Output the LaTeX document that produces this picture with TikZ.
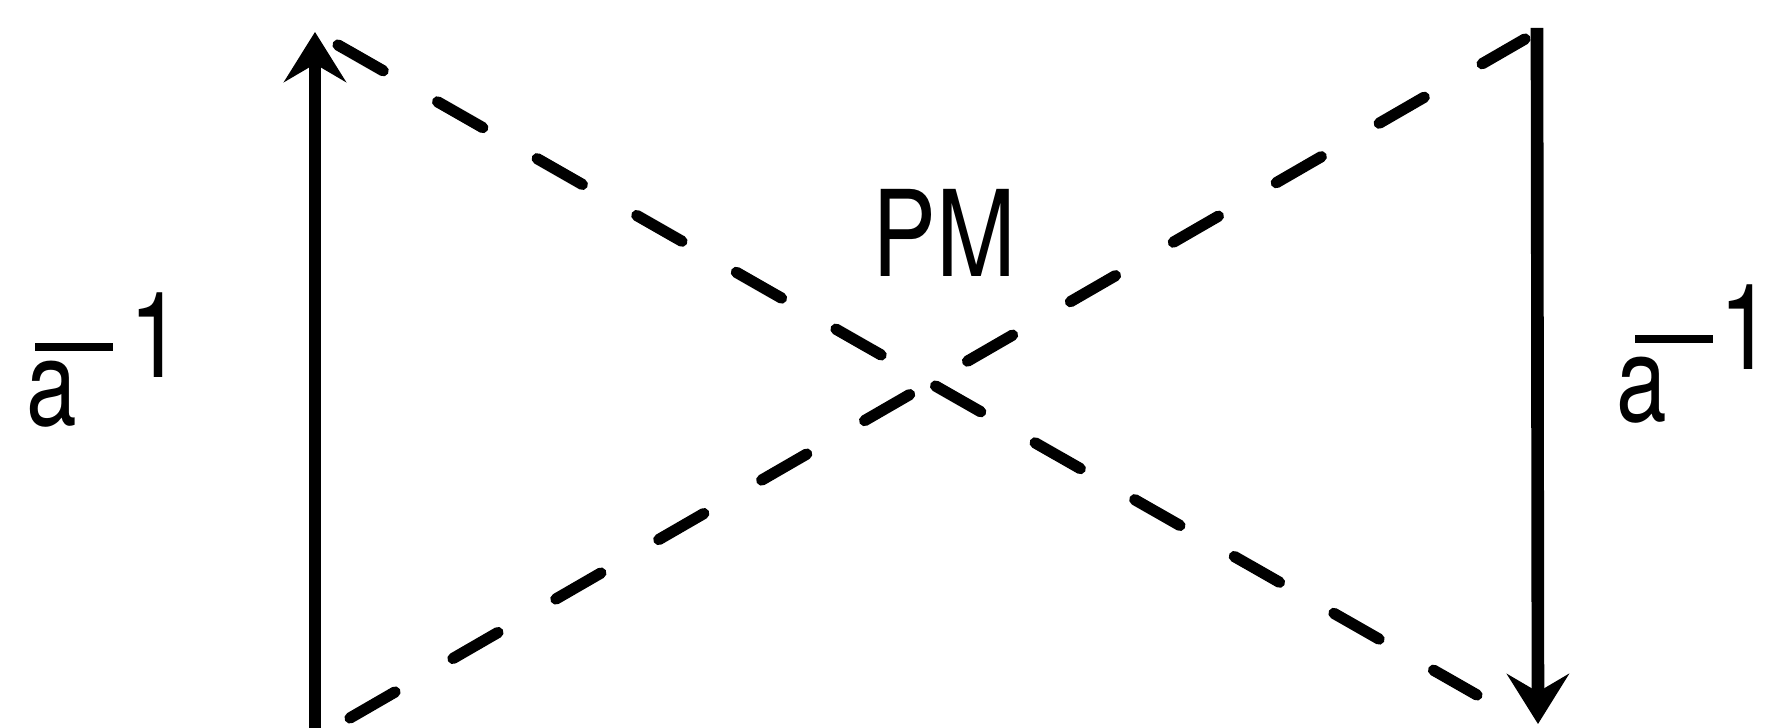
\documentclass[tikz,border=0pt]{standalone}
\usepackage{fontspec}
\usepackage{graphicx}
\setmainfont{TeX Gyre Heros}
\usetikzlibrary{arrows.meta}
\begin{document}
\begin{tikzpicture}[x=0.01cm,y=-0.01cm,
  lbl/.style={inner sep=0pt,font=\fontsize{34}{40}\selectfont},
  vec/.style={line width=3.6pt,-{Stealth[length=0.5cm,width=0.62cm,inset=0.18cm]}},
  dline/.style={line width=3.2pt,line cap=round,dash pattern=on 0.52cm off #1},
  bar/.style={line width=2.2pt}]
\useasboundingbox (0,0) rectangle (1765,728);
% arrows
\coordinate (Lbot) at (315,740);
\coordinate (Ltop) at (315,32);
\coordinate (Rtop) at (1537,28);
\coordinate (Rbot) at (1538,724);
\draw[vec] (Lbot) -- (Ltop);
\draw[vec] (Rtop) -- (Rbot);
% dashed crossing lines
\coordinate (D1a) at (338,45);
\coordinate (D1b) at (1477,695);
\coordinate (D2a) at (350,718);
\coordinate (D2b) at (1525,39);
\draw[dline=0.626cm] (D1a) -- (D1b);
\draw[dline=0.668cm] (D2a) -- (D2b);
% centre label
\node[lbl,anchor=base west] (pm) at (872,277) {\scalebox{0.8}[1]{PM}};
% left label
\node[lbl,anchor=base west] (la) at (26,426) {\scalebox{0.76}[1]{a}};
\node[lbl,anchor=base] (l1) at (156,378) {\scalebox{0.8}[1]{1}};
\coordinate (lb1) at (35,347);
\coordinate (lb2) at (113,347);
\draw[bar] (lb1) -- (lb2);
% right label
\node[lbl,anchor=base west] (ra) at (1616,422) {\scalebox{0.76}[1]{a}};
\node[lbl,anchor=base west] (r1) at (1719,370) {\scalebox{0.8}[1]{1}\kern-5pt};
\coordinate (rb1) at (1635,339);
\coordinate (rb2) at (1713,339);
\draw[bar] (rb1) -- (rb2);
\end{tikzpicture}
\end{document}
